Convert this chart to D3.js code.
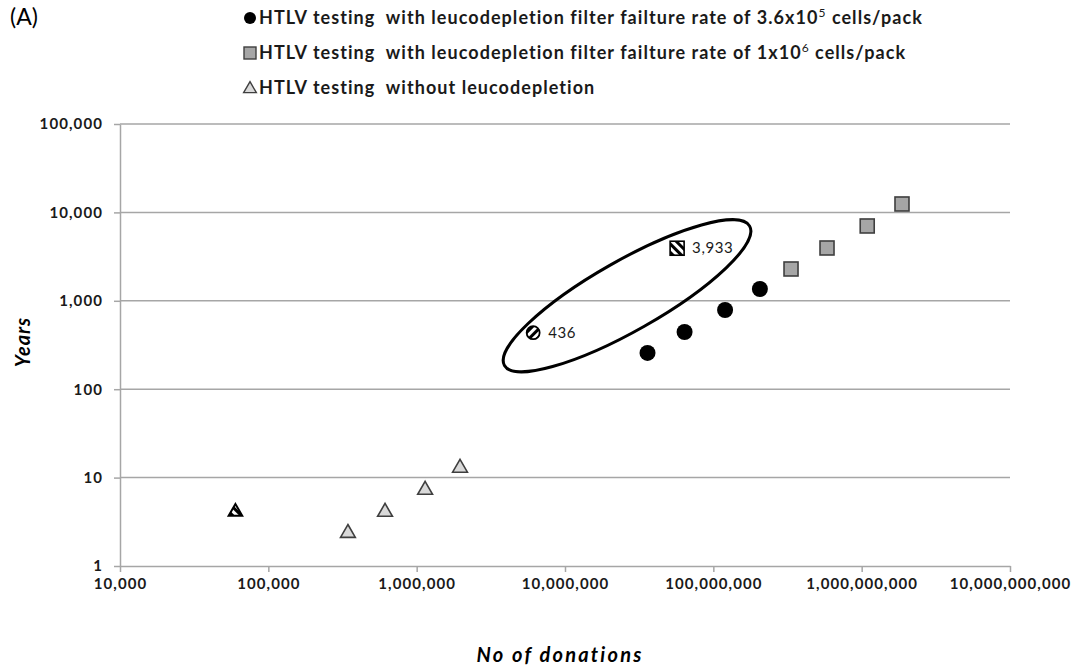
<!DOCTYPE html>
<html>
<head>
<meta charset="utf-8">
<script src="https://cdn.jsdelivr.net/npm/d3@7"></script>
<style>
  body { margin: 0; background: #fff; }
  svg { font-family: Lato, "Open Sans", sans-serif; }
  text { white-space: pre; }
</style>
</head>
<body>
<div id="chart"></div>
<script>
// data (donations, years)
var filter36X = [36e6, 64e6, 120e6, 206e6];
var filter36Y = [257, 444, 787, 1360];
var filter1X = [334e6, 584e6, 1.09e9, 1.87e9];
var filter1Y = [2290, 3957, 7020, 12450];
var noLeucoX = [344e3, 612e3, 1.14e6, 1.96e6];
var noLeucoY = [2.42, 4.19, 7.43, 13.2];
var currentX = [6.1e6, 57e6, 60e3];
var currentY = [436, 3933, 4.1];
var currentLabels = ["436", "3,933", ""];
var xTicks = [1e4, 1e5, 1e6, 1e7, 1e8, 1e9, 1e10];
var yTicks = [1, 10, 100, 1000, 10000, 100000];

var width = 1072, height = 670;
var margin = {top: 124, right: 62, bottom: 104, left: 120};

var svg = d3.select("#chart").append("svg")
    .attr("width", width)
    .attr("height", height);

var x = d3.scaleLog()
    .domain([1e4, 1e10])
    .range([margin.left, width - margin.right]);
var y = d3.scaleLog()
    .domain([1, 1e5])
    .range([height - margin.bottom, margin.top]);

// hatch patterns for the highlighted markers
var defs = svg.append("defs");
function hatch(id, angle, w) {
  var p = defs.append("pattern")
      .attr("id", id)
      .attr("patternUnits", "userSpaceOnUse")
      .attr("width", 6).attr("height", 6)
      .attr("patternTransform", "rotate(" + angle + ")");
  p.append("rect").attr("width", 6).attr("height", 6).attr("fill", "#fff");
  p.append("rect").attr("width", w).attr("height", 6).attr("fill", "#000");
}
hatch("hatchA", 45, 3);
hatch("hatchB", -45, 3);

// grid lines
svg.append("g").selectAll("line")
    .data(yTicks.slice(1))
    .enter().append("line")
    .attr("x1", margin.left).attr("x2", width - margin.right)
    .attr("y1", function(d) { return y(d); })
    .attr("y2", function(d) { return y(d); })
    .attr("stroke", "#a6a6a6")
    .attr("stroke-width", 1.5);

// axes
var fmt = d3.format(",");
var yAxis = svg.append("g")
    .attr("transform", "translate(" + margin.left + ",0)")
    .call(d3.axisLeft(y).tickValues(yTicks).tickFormat(fmt).tickSize(6).tickSizeOuter(0));
var xAxis = svg.append("g")
    .attr("transform", "translate(0," + (height - margin.bottom) + ")")
    .call(d3.axisBottom(x).tickValues(xTicks).tickFormat(fmt).tickSize(6).tickSizeOuter(0));

[xAxis, yAxis].forEach(function(a) {
  a.select(".domain").attr("stroke", "#a6a6a6").attr("stroke-width", 1.5);
  a.selectAll(".tick line").attr("stroke", "#a6a6a6").attr("stroke-width", 1.5);
  a.selectAll(".tick text")
      .attr("fill", "#1a1a1a")
      .style("font-size", "15px")
      .style("font-weight", "bold")
      .style("letter-spacing", "1.1px")
      .style("font-family", "Lato, sans-serif");
});
yAxis.selectAll(".tick text").attr("x", -17);
xAxis.selectAll(".tick text").attr("y", 12);

// ellipse around the current estimates
var ell = {cx: 26.2e6, cy: 1140};
svg.append("ellipse")
    .attr("transform", "translate(" + x(ell.cx) + "," + y(ell.cy) + ") rotate(-29.6)")
    .attr("rx", 141).attr("ry", 35)
    .attr("fill", "none")
    .attr("stroke", "#000")
    .attr("stroke-width", 3);

// series
var tri = d3.symbol().type(d3.symbolTriangle).size(95);

svg.append("g").selectAll("path")
    .data(d3.zip(noLeucoX, noLeucoY))
    .enter().append("path")
    .attr("d", tri)
    .attr("transform", function(d) { return "translate(" + x(d[0]) + "," + (y(d[1]) + 1) + ")"; })
    .attr("fill", "#d9d9d9")
    .attr("stroke", "#3f3f3f")
    .attr("stroke-width", 1.6);

svg.append("g").selectAll("rect")
    .data(d3.zip(filter1X, filter1Y))
    .enter().append("rect")
    .attr("x", function(d) { return x(d[0]) - 7; })
    .attr("y", function(d) { return y(d[1]) - 7; })
    .attr("width", 14).attr("height", 14)
    .attr("fill", "#a6a6a6")
    .attr("stroke", "#3f3f3f")
    .attr("stroke-width", 1.6);

svg.append("g").selectAll("circle")
    .data(d3.zip(filter36X, filter36Y))
    .enter().append("circle")
    .attr("cx", function(d) { return x(d[0]); })
    .attr("cy", function(d) { return y(d[1]); })
    .attr("r", 8)
    .attr("fill", "#000");

// highlighted (current) points
svg.append("circle")
    .attr("cx", x(currentX[0])).attr("cy", y(currentY[0]))
    .attr("r", 6.5)
    .attr("fill", "url(#hatchA)")
    .attr("stroke", "#000").attr("stroke-width", 1.8);
svg.append("rect")
    .attr("x", x(currentX[1]) - 7).attr("y", y(currentY[1]) - 7)
    .attr("width", 14).attr("height", 14)
    .attr("fill", "url(#hatchB)")
    .attr("stroke", "#000").attr("stroke-width", 1.6);
svg.append("path")
    .attr("d", tri.size(80)())
    .attr("transform", "translate(" + x(currentX[2]) + "," + y(currentY[2]) + ")")
    .attr("fill", "url(#hatchB)")
    .attr("stroke", "#000").attr("stroke-width", 2);

svg.append("g").selectAll("text")
    .data(d3.zip(currentX, currentY, currentLabels))
    .enter().append("text")
    .attr("x", function(d) { return x(d[0]) + 15; })
    .attr("y", function(d) { return y(d[1]); })
    .attr("dy", "0.35em")
    .attr("fill", "#1a1a1a")
    .style("font-size", "15px")
    .style("letter-spacing", "0.6px")
    .text(function(d) { return d[2]; });

// axis titles
svg.append("text")
    .attr("transform", "translate(30,342) rotate(-90)")
    .attr("text-anchor", "middle")
    .style("font-size", "20px")
    .style("font-weight", "bold")
    .style("font-style", "italic")
    .style("letter-spacing", "1px")
    .text("Years");
svg.append("text")
    .attr("x", 560).attr("y", 662)
    .attr("text-anchor", "middle")
    .style("font-size", "20px")
    .style("font-weight", "bold")
    .style("font-style", "italic")
    .style("letter-spacing", "2.2px")
    .text("No of donations");

// panel label
svg.append("text")
    .attr("x", 10).attr("y", 25)
    .style("font-size", "23px")
    .text("(A)");

// legend
var legend = svg.append("g").attr("transform", "translate(250,0)");
var rows = [
  {y: 18, text: "HTLV testing  with leucodepletion filter failture rate of 3.6x10", sup: "5", tail: " cells/pack"},
  {y: 53, text: "HTLV testing  with leucodepletion filter failture rate of 1x10", sup: "6", tail: " cells/pack"},
  {y: 88, text: "HTLV testing  without leucodepletion", sup: "", tail: ""}
];
legend.append("circle").attr("cx", 0).attr("cy", rows[0].y).attr("r", 6).attr("fill", "#000");
legend.append("rect").attr("x", -6).attr("y", rows[1].y - 6).attr("width", 12).attr("height", 12)
    .attr("fill", "#a6a6a6").attr("stroke", "#3f3f3f").attr("stroke-width", 1.4);
legend.append("path").attr("d", tri.size(70)()).attr("transform", "translate(0," + (rows[2].y + 1) + ")")
    .attr("fill", "#d9d9d9").attr("stroke", "#3f3f3f").attr("stroke-width", 1.4);

rows.forEach(function(r) {
  var t = legend.append("text")
      .attr("x", 9).attr("y", r.y + 6)
      .attr("fill", "#1a1a1a")
      .style("font-size", "18px")
      .style("font-weight", "bold")
      .style("letter-spacing", "1.05px");
  t.append("tspan").text(r.text);
  if (r.sup) {
    t.append("tspan").attr("dy", -7).style("font-size", "12px").style("font-weight", "normal").text(r.sup);
    t.append("tspan").attr("dy", 7).text(r.tail);
  }
});
</script>
</body>
</html>
